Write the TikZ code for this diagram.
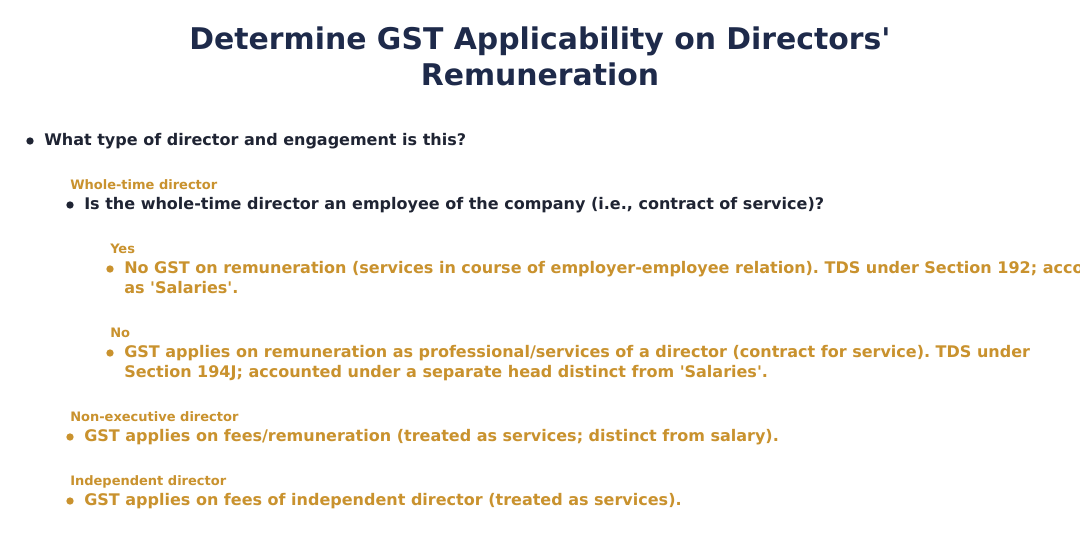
\documentclass[tikz,border=0pt]{standalone}
\usepackage{fontspec}
\setmainfont{DejaVu Sans}[Ligatures=TeXOff]
\frenchspacing
\definecolor{navy}{HTML}{1E2A4A}
\definecolor{dark}{HTML}{1F2433}
\definecolor{gold}{HTML}{C9922E}
\begin{document}
\frenchspacing
\begin{tikzpicture}[x=0.75pt,y=-0.75pt,
  title/.style={font=\fontsize{22.4}{27}\selectfont\bfseries, text=navy, align=center, inner sep=0},
  q/.style={font=\fontsize{12}{15}\selectfont\bfseries\frenchspacing, text=dark, anchor=mid west, inner sep=0},
  ans/.style={font=\fontsize{12}{15}\selectfont\bfseries\frenchspacing, text=gold, anchor=mid west, inner sep=0, align=left},
  lbl/.style={font=\fontsize{9.75}{10}\selectfont\bfseries, text=gold, anchor=mid west, inner sep=0},
  dotd/.style={circle, fill=dark, minimum size=5.5pt, inner sep=0},
  dotg/.style={circle, fill=gold, minimum size=5.5pt, inner sep=0}]
\useasboundingbox (0,0) rectangle (1080,538);
\clip (0,0) rectangle (1080,538);
\fill[white] (0,0) rectangle (1080,538);
\node[title] (t) at (540,56) {Determine GST Applicability on Directors'\\Remuneration};
\node[dotd] (b1) at (30,141) {};
\node[q] (q1) at (44,142) {What type of director and engagement is this?};
\node[lbl] (l1) at (70,186) {Whole-time director};
\node[dotd] (b2) at (70,205) {};
\node[q] (q2) at (84,206) {Is the whole-time director an employee of the company (i.e., contract of service)?};
\node[lbl] (l2) at (110,250) {Yes};
\node[dotg] (b3) at (110,269) {};
\node[ans, anchor=north west] (a1) at (124,261) {No GST on remuneration (services in course of employer-employee relation). TDS under Section 192; accounted under the head\\as 'Salaries'.};
\node[lbl] (l3) at (110,334) {No};
\node[dotg] (b4) at (110,353) {};
\node[ans, anchor=north west] (a2) at (124,345) {GST applies on remuneration as professional/services of a director (contract for service). TDS under\\Section 194J; accounted under a separate head distinct from 'Salaries'.};
\node[lbl] (l4) at (70,418) {Non-executive director};
\node[dotg] (b5) at (70,437) {};
\node[ans] (a3) at (84,438) {GST applies on fees/remuneration (treated as services; distinct from salary).};
\node[lbl] (l5) at (70,482) {Independent director};
\node[dotg] (b6) at (70,501) {};
\node[ans] (a4) at (84,502) {GST applies on fees of independent director (treated as services).};
\end{tikzpicture}
\end{document}
